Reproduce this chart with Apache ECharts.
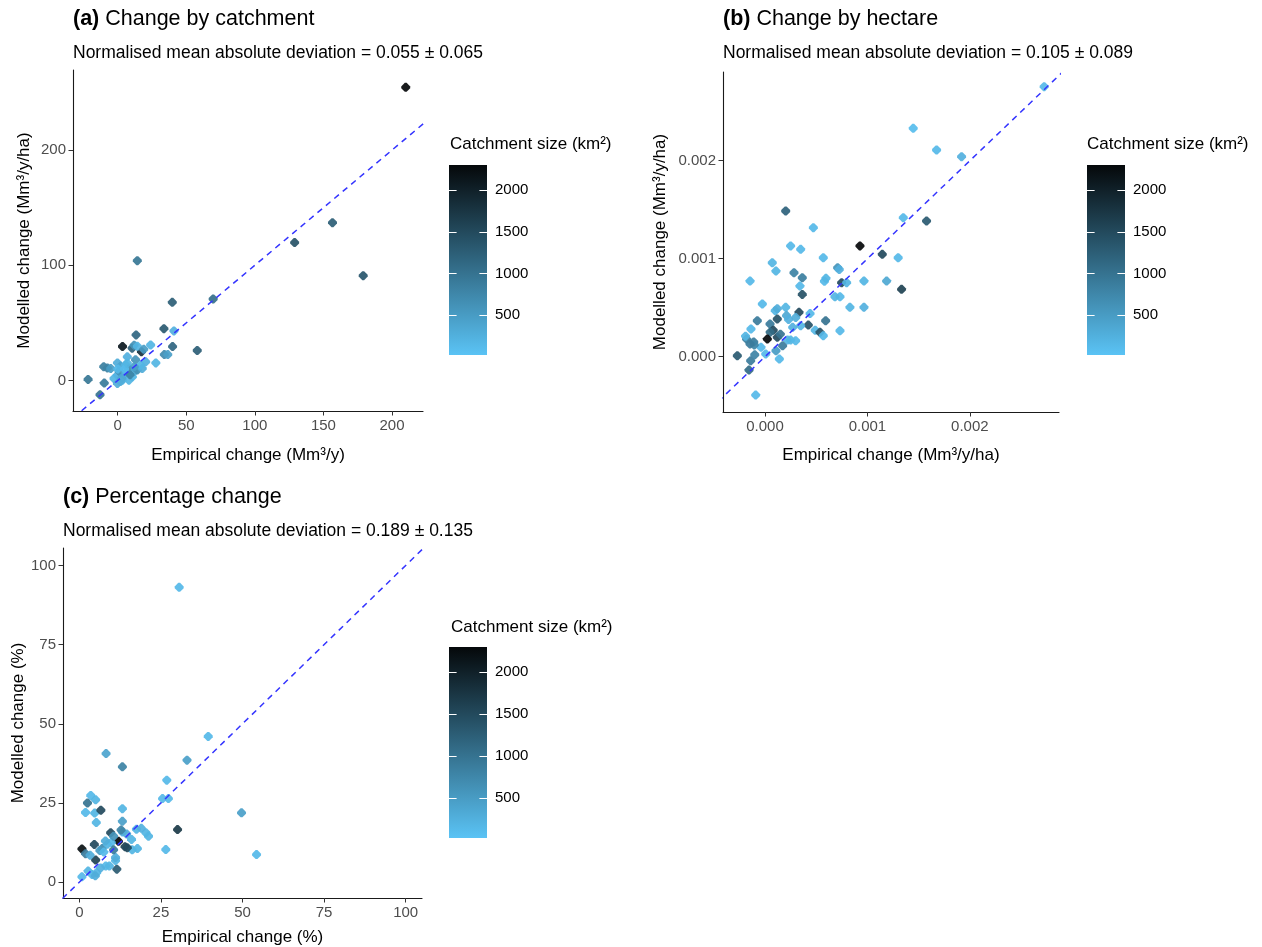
<!DOCTYPE html>
<html><head><meta charset="utf-8">
<script src="https://cdn.jsdelivr.net/npm/echarts@6/dist/echarts.min.js"></script>
<style>html,body{margin:0;padding:0;background:#fff}#chart{width:1262px;height:947px}</style>
</head><body><div id="chart"></div>
<script>
// ---------- DATA ----------
// (a) Change by catchment (Mm3/y)
const aEmpirical = [210,156.6,129,179,14.3,39.8,69.6,33.7,41,13.4,40,58,3.5,10.5,17.3,12,14.3,24,19,20.4,27.8,34,36.5,7,13,-10.2,-7.5,-21.6,-9.8,-12.9,-0.2,2.2,5.8,8.2,11.9,10.7,4.6,-0.2,-2.7,-0.2,3.4,8.2,14.3,17.9,16.7,-5.1,1,3,6,0,2,12,5,9,7];
const aModelled  = [254.5,137,119.7,91,104,67.8,70.7,45,43,39.5,29.4,26,29.5,28,25,30.6,29.7,30.8,27,16.2,15.2,22.5,22.5,20.5,18,12,10.8,0.9,-2.3,-12.4,15.2,12.4,13.6,10,7.5,3.2,4.6,4.6,1.7,-2.6,0.3,0.3,9,10.4,13.3,10.4,8,2,7,10,-1,12,10,5,15];
const aSize      = [2300,1250,1400,1350,950,1250,1050,1300,250,1150,1150,1250,2100,1200,1800,600,200,200,500,250,200,700,450,250,600,850,800,950,900,1000,300,400,200,700,300,200,150,250,200,300,100,200,650,300,200,500,600,350,250,150,300,450,120,800,200];
// (b) Change by hectare (Mm3/y/ha)
const bEmpirical = [0.002725,0.001447,0.001675,0.001919,0.000202,0.000472,0.00135,0.001577,0.000927,0.001145,0.0013,0.001333,0.001187,0.000966,0.000966,0.000829,0.000732,0.000683,0.00025,0.000348,0.000071,0.000107,-0.000146,0.000569,0.000283,0.000364,0.000341,0.000364,0.000748,0.000797,0.00058,0.000595,0.000709,0.000725,-0.000026,-0.000075,0.000202,0.0001,0.00012,0.00012,0.000049,0.00008,0.00005,0.000023,0.00012,0.00015,0.000332,0.00044,0.000423,0.00049,0.000537,0.000592,0.000569,0.000732,0.00021,0.00023,0.00022,0.00025,0.000299,0.000348,0.000172,0.000107,0.00014,0.000007,-0.000039,-0.00011,-0.000105,-0.000146,-0.00018,-0.00019,-0.000137,-0.00027,-0.00014,-0.000156,-0.000091,-0.0001,0.00027,0.0003];
const bModelled  = [0.002755,0.00233,0.002109,0.002041,0.001487,0.001317,0.001419,0.001385,0.00113,0.001045,0.00101,0.000688,0.000772,0.000772,0.000504,0.000504,0.000612,0.000612,0.00113,0.001096,0.000959,0.000874,0.000772,0.00101,0.000857,0.000806,0.000721,0.000636,0.000755,0.000755,0.00077,0.0008,0.000908,0.00089,0.000538,0.000367,0.000504,0.00047,0.00049,0.000385,0.000334,0.00027,0.00025,0.00018,0.000198,0.00023,0.000453,0.00044,0.000323,0.00027,0.000249,0.000367,0.000214,0.000265,0.00042,0.00038,0.00017,0.00017,0.000163,0.000316,0.000112,0.000061,-0.000023,0.000028,0.000096,0.00015,0.00012,0.00013,0.00018,0.00021,0.000283,0.00001,-0.000041,-0.000136,-0.000391,0.00002,0.0003,0.0004];
const bSize      = [150,100,150,250,1200,150,150,1300,2300,1500,150,1600,350,200,250,200,150,200,150,150,200,200,150,150,800,850,150,1400,1500,200,150,200,600,250,150,900,200,200,300,1400,900,1500,1100,2300,1500,1000,1500,150,1400,200,1400,1000,150,150,350,250,200,200,150,200,900,500,150,150,150,900,800,900,850,200,150,1300,900,1100,150,800,250,300];
// (c) Percentage change (%)
const cEmpirical = [30.6,39.5,33,8.2,13.2,26.8,25.5,27.3,49.7,54.3,30.1,26.5,13.2,13.2,3.5,5,2.5,1.9,4.7,6.6,5.2,0.8,1.9,4.6,5,9.6,12,14,11.5,0.8,2.7,3.9,5.3,8.1,9.2,7,8.6,9.8,11.1,11.1,10.5,13.2,14.5,16,17.5,20.4,21.2,16.2,17.8,14.7,6.3,3.3,6.5,4.9,12.8,8,10.5,19,7.5];
const cModelled  = [93.1,46,38.5,40.6,36.4,32.2,26.4,26.4,21.9,8.7,16.6,10.3,23.2,19.2,27.4,26,25,22,21.8,22.7,18.8,10.5,9,11.9,7,15.6,12.9,11.2,4.1,1.7,3.5,2.4,3,5.1,5.1,10.6,12,12.5,6.8,7.8,10.2,15.8,15.2,13.5,16.7,15.6,14.5,10.2,10.6,10.9,10,8.5,4.5,2,16.5,13,14.5,17,9.5];
const cSize      = [150,150,450,400,800,150,150,150,450,150,1700,150,200,450,150,200,1000,150,200,1500,200,2200,900,1500,1600,1500,2300,1600,1300,150,200,150,200,150,200,700,200,150,200,300,900,200,300,200,200,200,200,200,200,1500,500,300,250,300,800,300,600,250,150];

// axis limits and ticks
const aLimX = [-32.6, 222.6], aLimY = [-26.5, 269.5];
const bLimX = [-0.00041, 0.00287], bLimY = [-0.000564, 0.002905];
const cLimX = [-5, 105], cLimY = [-5, 105.5];
const aTicksX = [0, 50, 100, 150, 200], aTicksY = [0, 100, 200];
const bTicksX = [0, 0.001, 0.002], bTicksY = [0, 0.001, 0.002];
const cTicksX = [0, 25, 50, 75, 100], cTicksY = [0, 25, 50, 75, 100];
const sizeRange = [24, 2300];
const sizeTicks = [500, 1000, 1500, 2000];
// 1:1 reference line
const oneToOneA = [[-100, -100], [400, 400]];
const oneToOneB = [[-0.001, -0.001], [0.004, 0.004]];
const oneToOneC = [[-10, -10], [120, 120]];

const titles = ['Change by catchment', 'Change by hectare', 'Percentage change'];
const tags = ['(a)', '(b)', '(c)'];
const subtitles = ['Normalised mean absolute deviation = 0.055 \u00b1 0.065',
                   'Normalised mean absolute deviation = 0.105 \u00b1 0.089',
                   'Normalised mean absolute deviation = 0.189 \u00b1 0.135'];
const xNames = ['Empirical change (Mm\u00b3/y)', 'Empirical change (Mm\u00b3/y/ha)', 'Empirical change (%)'];
const yNames = ['Modelled change (Mm\u00b3/y/ha)', 'Modelled change (Mm\u00b3/y/ha)', 'Modelled change (%)'];
const legendTitle = 'Catchment size (km\u00b2)';

// ---------- STYLE ----------
const FONT = '"Liberation Sans", Arial, sans-serif';
const LOW = '#5ac3f5', HIGH = '#05080a';
const zip = (x, y, s) => x.map((v, i) => [v, y[i], s[i]]);

const grids = [
  {left: 73, top: 70, width: 350, height: 341},
  {left: 723, top: 72, width: 336, height: 340},
  {left: 63, top: 548, width: 359, height: 350},
  {left: 449, top: 165, width: 38, height: 190},
  {left: 1087, top: 165, width: 38, height: 190},
  {left: 449, top: 647, width: 38, height: 191}
].map(g => Object.assign({outerBoundsMode: 'none', containLabel: false}, g));

function valAxis(gi, lim, ticks, name, gap, fmt) {
  return {
    type: 'value', gridIndex: gi, min: lim[0], max: lim[1], scale: true,
    axisLine: {show: true, onZero: false, lineStyle: {color: '#1a1a1a', width: 1.1}},
    axisTick: {show: true, length: 4.5, customValues: ticks, lineStyle: {color: '#333', width: 1}},
    axisLabel: {show: true, customValues: ticks, color: '#4d4d4d', fontSize: 15, fontFamily: FONT, margin: 7,
                formatter: fmt || (v => String(v))},
    splitLine: {show: false},
    name: name, nameLocation: 'middle', nameGap: gap,
    nameTextStyle: {color: '#000', fontSize: 17, fontFamily: FONT}
  };
}
const f3 = v => v.toFixed(3);

const xAxes = [
  valAxis(0, aLimX, aTicksX, xNames[0], 36),
  valAxis(1, bLimX, bTicksX, xNames[1], 35, f3),
  valAxis(2, cLimX, cTicksX, xNames[2], 31),
  {type: 'category', gridIndex: 3, data: ['bar'], show: false},
  {type: 'category', gridIndex: 4, data: ['bar'], show: false},
  {type: 'category', gridIndex: 5, data: ['bar'], show: false}
];
function cbAxis(gi, pos, labels) {
  return {
    type: 'value', gridIndex: gi, position: pos, min: sizeRange[0], max: sizeRange[1], z: 6,
    axisLine: {show: false},
    axisTick: {show: true, inside: true, length: 7.6, customValues: sizeTicks, lineStyle: {color: '#fff', width: 1}},
    axisLabel: {show: labels, customValues: sizeTicks, color: '#000', fontSize: 15, fontFamily: FONT, margin: 8,
                formatter: v => String(v)},
    splitLine: {show: false}
  };
}
const yAxes = [
  valAxis(0, aLimY, aTicksY, yNames[0], 40),
  valAxis(1, bLimY, bTicksY, yNames[1], 54, f3),
  valAxis(2, cLimY, cTicksY, yNames[2], 34),
  cbAxis(3, 'right', true), cbAxis(3, 'left', false),
  cbAxis(4, 'right', true), cbAxis(4, 'left', false),
  cbAxis(5, 'right', true), cbAxis(5, 'left', false)
];

const symbolPath = 'path://M4,0 L6,0 L10,4 L10,6 L6,10 L4,10 L0,6 L0,4 Z';
function scatter(i, data) {
  return {type: 'scatter', xAxisIndex: i, yAxisIndex: i, data: data, symbol: symbolPath, symbolSize: 9,
          itemStyle: {opacity: 0.92}, z: 2, silent: true};
}
function refLine(i, data) {
  return {type: 'line', xAxisIndex: i, yAxisIndex: i, data: data, showSymbol: false, symbol: 'none',
          clip: true, silent: true, z: 4,
          lineStyle: {color: '#3434ff', width: 1.5, type: [6, 5]}};
}
function colorBar(gi, yi) {
  return {type: 'bar', xAxisIndex: gi, yAxisIndex: yi, data: [sizeRange[1]], barWidth: '100%', clip: true,
          silent: true, z: 2,
          itemStyle: {color: {type: 'linear', x: 0, y: 1, x2: 0, y2: 0,
                              colorStops: [{offset: 0, color: LOW}, {offset: 1, color: HIGH}]}}};
}

const titleCfg = [];
const titlePos = [[73, 8, 44], [723, 8, 44], [63, 486, 522]];
titlePos.forEach((p, i) => {
  titleCfg.push({left: p[0], top: p[1], padding: 0, text: '{b|' + tags[i] + '} ' + titles[i],
    textStyle: {fontSize: 21.5, fontWeight: 'normal', color: '#000', fontFamily: FONT,
                rich: {b: {fontSize: 21.5, fontWeight: 'bold', color: '#000', fontFamily: FONT}}}});
  titleCfg.push({left: p[0], top: p[2], padding: 0, text: subtitles[i],
    textStyle: {fontSize: 17.5, fontWeight: 'normal', color: '#000', fontFamily: FONT}});
});
[[450, 136], [1087, 136], [451, 619]].forEach(p => {
  titleCfg.push({left: p[0], top: p[1], padding: 0, text: legendTitle,
    textStyle: {fontSize: 17, fontWeight: 'normal', color: '#000', fontFamily: FONT}});
});

const chart = echarts.init(document.getElementById('chart'), null, {renderer: 'canvas'});
chart.setOption({
  animation: false,
  backgroundColor: '#fff',
  title: titleCfg,
  grid: grids,
  xAxis: xAxes,
  yAxis: yAxes,
  visualMap: {type: 'continuous', show: false, min: sizeRange[0], max: sizeRange[1], dimension: 2,
              seriesIndex: [0, 2, 4], inRange: {color: [LOW, HIGH]}},
  series: [
    scatter(0, zip(aEmpirical, aModelled, aSize)), refLine(0, oneToOneA),
    scatter(1, zip(bEmpirical, bModelled, bSize)), refLine(1, oneToOneB),
    scatter(2, zip(cEmpirical, cModelled, cSize)), refLine(2, oneToOneC),
    colorBar(3, 3), colorBar(4, 5), colorBar(5, 7)
  ]
});
</script></body></html>
